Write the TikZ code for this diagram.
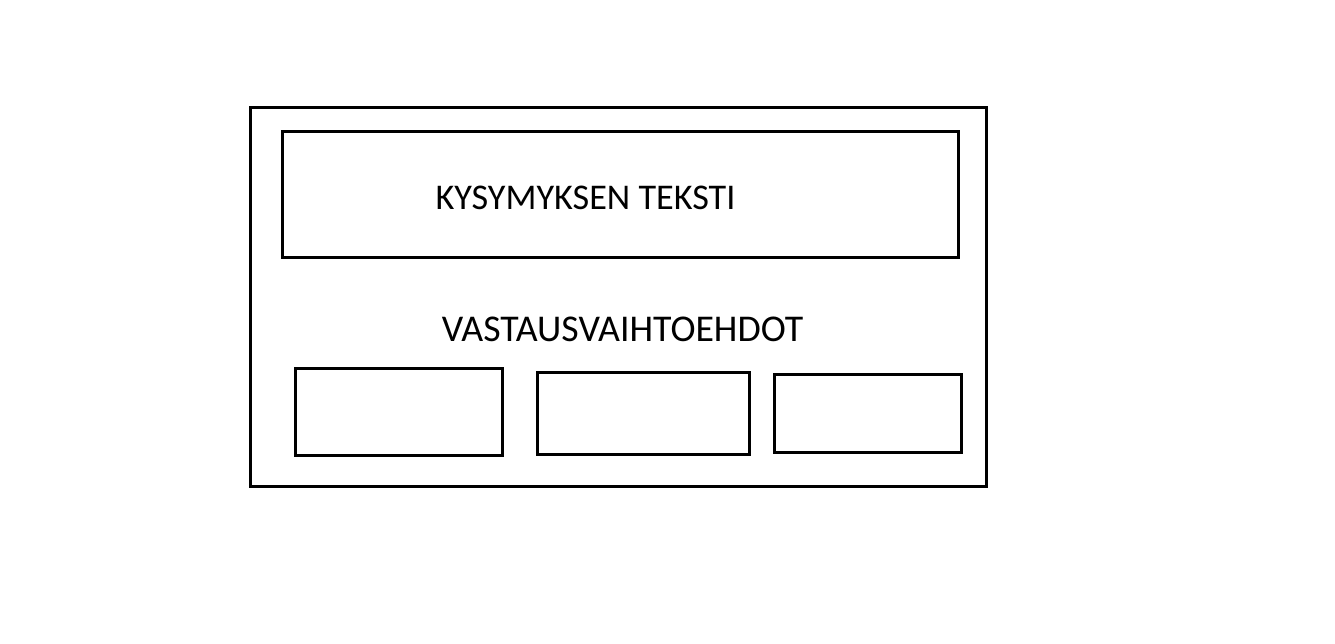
\documentclass[tikz,border=0pt]{standalone}
\usepackage{fontspec}
\setmainfont{Carlito}
\begin{document}
\begin{tikzpicture}[x=1pt,y=-1pt,
  box/.style={draw=black,line width=3pt,rectangle,inner sep=0pt},
  lbl/.style={anchor=base,inner sep=0pt,text=black}]
\useasboundingbox[fill=white] (0,0) rectangle (1335,644);
\node[box,minimum width=736pt,minimum height=379pt] (outer) at (618,297) {};
\node[box,minimum width=675.5pt,minimum height=126.5pt] (question) at (620.25,194.75) {};
\node[lbl,font=\fontsize{36.2}{42}\selectfont] (qtext) at (585.5,209.5) {KYSYMYKSEN TEKSTI};
\node[lbl,font=\fontsize{37.8}{44}\selectfont] (atext) at (622.5,341.5) {VASTAUSVAIHTOEHDOT};
\node[box,minimum width=207.5pt,minimum height=87pt] (opt1) at (398.75,412) {};
\node[box,minimum width=212pt,minimum height=82pt] (opt2) at (643,413) {};
\node[box,minimum width=187pt,minimum height=78pt] (opt3) at (868,413.5) {};
\end{tikzpicture}
\end{document}
